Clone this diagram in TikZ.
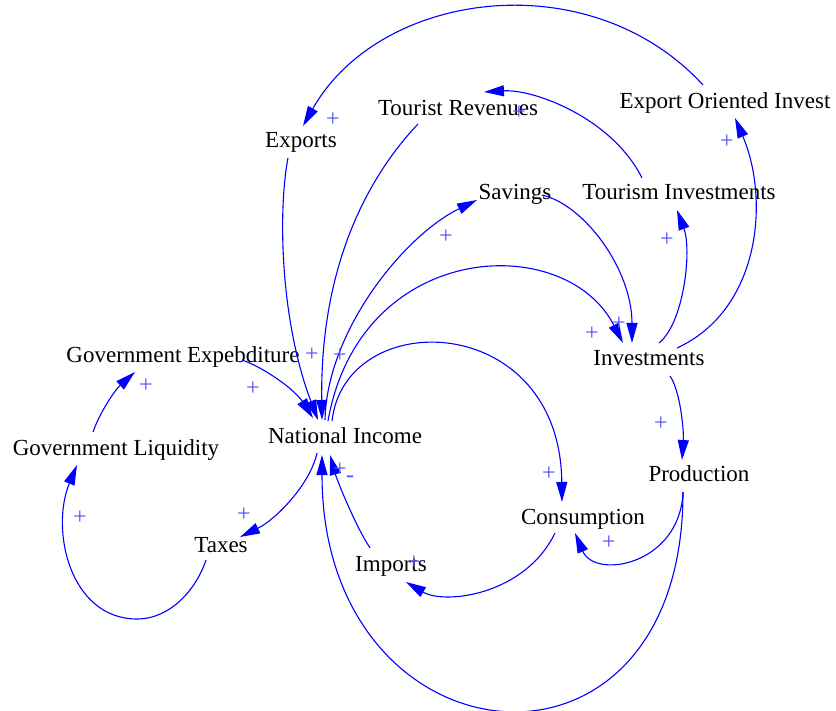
\documentclass[tikz,border=0pt]{standalone}
\usepackage{fontspec}
\setmainfont{Liberation Serif}
\usetikzlibrary{arrows.meta}
\definecolor{linkblue}{RGB}{0,0,255}
\definecolor{signblue}{RGB}{80,80,255}
\begin{document}
\begin{tikzpicture}[x=1pt,y=-1pt,
  var/.style={font=\fontsize{23}{27}\selectfont, inner sep=0pt, text height=15.5pt, text depth=0pt},
  link/.style={draw=linkblue, line width=1.1pt, -{Triangle[length=20pt,width=11pt]}},
  sign/.style={text=signblue, font=\fontsize{24}{28}\selectfont, inner sep=0pt}]
\path[use as bounding box] (0,0) rectangle (836,711);

% variables
\node[var] (ex)   at (301,140) {Exports};
\node[var] (tr)   at (458,108) {Tourist Revenues};
\node[var] (eoi)  at (725,101) {Export Oriented Invest};
\node[var] (sav)  at (515,192) {Savings};
\node[var] (tinv) at (679,192) {Tourism Investments};
\node[var] (ge)   at (183,355) {Government Expebditure};
\node[var] (inv)  at (649,358) {Investments};
\node[var] (gl)   at (116,448) {Government Liquidity};
\node[var] (ni)   at (345,436) {National Income};
\node[var] (prod) at (699,474) {Production};
\node[var] (cons) at (583,517) {Consumption};
\node[var] (tax)  at (221,545) {Taxes};
\node[var] (imp)  at (391,564) {Imports};

% links
\draw[link] ([shift={(-22,-16)}]eoi.center) .. controls (590,-38) and (380,-10) .. ([shift={(2,-14)}]ex.center);
\draw[link] ([shift={(-37,-14)}]tinv.center) .. controls (612,118) and (534,89) .. ([shift={(26,-16)}]tr.center);
\draw[link] ([shift={(10,-15)}]inv.center) .. controls (684,323) and (692,250) .. ([shift={(-2,18)}]tinv.center);
\draw[link] ([shift={(28,-10)}]inv.center) .. controls (760,310) and (770,200) .. ([shift={(10,17)}]eoi.center);
\draw[link] ([shift={(-13,18)}]ex.center) .. controls (278,210) and (280,320) .. ([shift={(-27,-16)}]ni.center);
\draw[link] ([shift={(-40,16)}]tr.center) .. controls (365,180) and (320,270) .. ([shift={(-23,-16)}]ni.center);
\draw[link] ([shift={(-20,-16)}]ni.center) .. controls (327,330) and (405,235) .. ([shift={(-38,8)}]sav.center);
\draw[link] ([shift={(27,3)}]sav.center) .. controls (585,205) and (632,270) .. ([shift={(-17,-15)}]inv.center);
\draw[link] ([shift={(-17,-15)}]ni.center) .. controls (360,240) and (565,230) .. ([shift={(-26,-15)}]inv.center);
\draw[link] ([shift={(59,5)}]ge.center) .. controls (265,368) and (295,390) .. ([shift={(-32,-18)}]ni.center);
\draw[link] ([shift={(-13,-15)}]ni.center) .. controls (345,305) and (560,310) .. ([shift={(-21,-15)}]cons.center);
\draw[link] ([shift={(21,18)}]inv.center) .. controls (680,390) and (684,430) .. ([shift={(-17,-14)}]prod.center);
\draw[link] ([shift={(-16,18)}]prod.center) .. controls (680,565) and (595,580) .. ([shift={(-8,16)}]cons.center);
\draw[link] ([shift={(-28,16)}]cons.center) .. controls (525,595) and (445,605) .. ([shift={(15,18)}]imp.center);
\draw[link] ([shift={(-21,-16)}]imp.center) .. controls (355,525) and (337,480) .. ([shift={(-15,19)}]ni.center);
\draw[link] ([shift={(-16,18)}]prod.center) .. controls (683,806) and (322,769) .. ([shift={(-23,19)}]ni.center);
\draw[link] ([shift={(-28,17)}]ni.center) .. controls (310,485) and (275,520) .. ([shift={(19,-8)}]tax.center);
\draw[link] ([shift={(-15,15)}]tax.center) .. controls (196,590) and (170,619) .. (137,619)
            .. controls (70,619) and (50,530) .. ([shift={(-39,17)}]gl.center);
\draw[link] ([shift={(-23,-16)}]gl.center) .. controls (100,412) and (115,390) .. ([shift={(-48,17)}]ge.center);

% polarities
\node[sign] (p1)  at (333,120) {+};
\node[sign] (p2)  at (519,113) {+};
\node[sign] (p3)  at (667,240) {+};
\node[sign] (p4)  at (727,142) {+};
\node[sign] (p5)  at (312,355) {+};
\node[sign] (p6)  at (340,356) {+};
\node[sign] (p7)  at (253,389) {+};
\node[sign] (p8)  at (446,237) {+};
\node[sign] (p9)  at (619,324) {+};
\node[sign] (p10) at (592,334) {+};
\node[sign] (p11) at (549,474) {+};
\node[sign] (p12) at (661,424) {+};
\node[sign] (p13) at (609,543) {+};
\node[sign] (p14) at (414,563) {+};
\node[sign] (p15) at (350,479) {-};
\node[sign] (p16) at (340,470) {+};
\node[sign] (p17) at (244,515) {+};
\node[sign] (p18) at (80,518) {+};
\node[sign] (p19) at (146,386) {+};
\end{tikzpicture}
\end{document}
